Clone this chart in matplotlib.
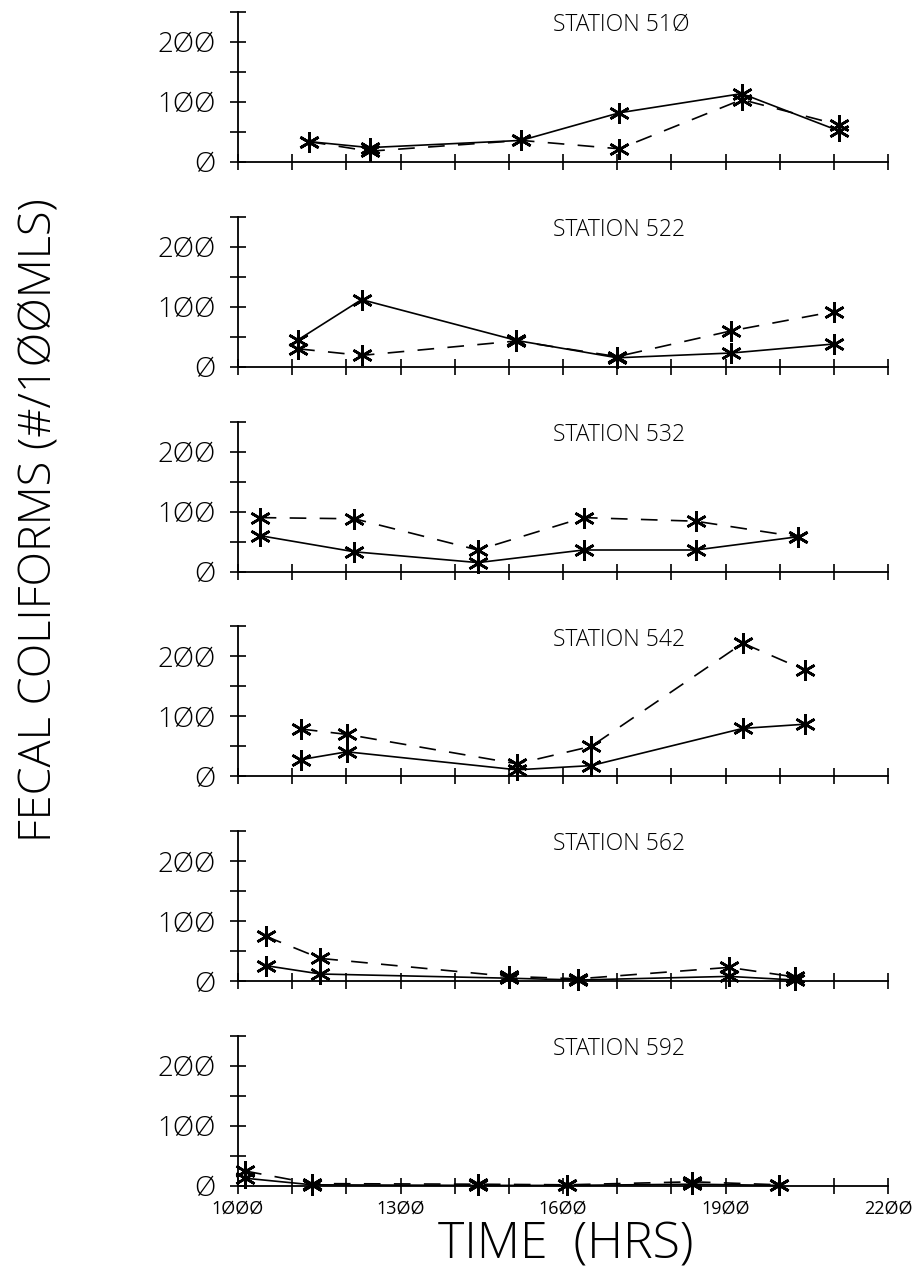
#!/usr/bin/env python3
import matplotlib
matplotlib.use('Agg')
import matplotlib.pyplot as plt
from matplotlib.ticker import MultipleLocator, FuncFormatter

#sampling times (hrs) and fecal coliform counts for each station
#solid line is the first survey, dashed line the second
stations = ['510', '522', '532', '542', '562', '592']

times510 = [1131, 1243, 1523, 1704, 1930, 2109]
solid510 = [34, 24, 36, 82, 114, 52]
dashed510 = [34, 18, 36, 22, 104, 62]

times522 = [1111, 1228, 1514, 1700, 1911, 2100]
solid522 = [45, 112, 44, 15, 23, 38]
dashed522 = [30, 19, 43, 17, 60, 92]

times532 = [1040, 1215, 1443, 1638, 1845, 2033]
solid532 = [60, 33, 15, 36, 36, 58]
dashed532 = [90, 88, 36, 90, 84, 58]

times542 = [1116, 1201, 1515, 1652, 1932, 2047]
solid542 = [28, 41, 11, 18, 80, 87]
dashed542 = [79, 70, 21, 50, 222, 177]

times562 = [1051, 1152, 1500, 1628, 1906, 2029]
solid562 = [26, 12, 5, 2, 8, 2]
dashed562 = [75, 38, 8, 4, 23, 7]

times592 = [1013, 1137, 1443, 1608, 1839, 1999]
solid592 = [13, 2, 1, 1, 3, 1]
dashed592 = [25, 4, 3, 2, 7, 2]

allTimes = [times510, times522, times532, times542, times562, times592]
allSolid = [solid510, solid522, solid532, solid542, solid562, solid592]
allDashed = [dashed510, dashed522, dashed532, dashed542, dashed562, dashed592]

xLabels = [1000, 1300, 1600, 1900, 2200]

#thin plotter-like lettering
plt.rcParams['font.family'] = ['Open Sans', 'DejaVu Sans']
plt.rcParams['font.weight'] = 'light'

#plotter style zeros
slashZero = lambda s: str(s).replace('0', '\u00d8')


def drawPanel(ax, t, solid, dashed, name, lastPanel):
    ax.plot(t, solid, color='black', lw=1.2, marker=(6, 2, 0), ms=15, mew=1.9, clip_on=False)
    line, = ax.plot(t, dashed, color='black', lw=1.2, marker=(6, 2, 0), ms=15, mew=1.9, clip_on=False)
    line.set_dashes((10, 8))
    ax.set_xlim(1000, 2200)
    ax.set_ylim(0, 250)
    ax.spines['top'].set_visible(False)
    ax.spines['right'].set_visible(False)
    for s in ['left', 'bottom']:
        ax.spines[s].set_linewidth(1.3)
    ax.xaxis.set_major_locator(MultipleLocator(100))
    ax.yaxis.set_major_locator(MultipleLocator(100))
    ax.yaxis.set_minor_locator(MultipleLocator(50))
    ax.tick_params(axis='both', which='both', direction='inout', length=12, width=1.2)
    ax.tick_params(axis='y', which='major', labelsize=20, pad=10)
    ax.yaxis.set_major_formatter(FuncFormatter(lambda v, p: slashZero(int(v))))
    if lastPanel:
        ax.xaxis.set_major_formatter(FuncFormatter(lambda v, p: slashZero(int(v)) if int(round(v)) in xLabels else ''))
        ax.tick_params(axis='x', labelsize=13, pad=4)
        for lab in ax.get_xticklabels():
            lab.set_fontweight('normal')
    else:
        ax.tick_params(axis='x', labelbottom=False)
    ax.text(1581, 228, 'STATION ' + slashZero(name), fontsize=16.5, ha='left', va='center')


def main():
    fig = plt.figure(figsize=(9.17, 12.77), dpi=100)
    left = 238 / 917
    width = 650 / 917
    height = 150 / 1277
    for i, name in enumerate(stations):
        zeroPx = 162 + i * 204.8
        ax = fig.add_axes([left, 1 - zeroPx / 1277, width, height])
        drawPanel(ax, allTimes[i], allSolid[i], allDashed[i], name, i == len(stations) - 1)
    fig.text(0.043, 0.593, 'FECAL COLIFORMS (#/1\u00d8\u00d8MLS)', rotation=90, fontsize=32.5,
             ha='center', va='center')
    fig.text(0.617, 1 - 1258 / 1277, 'TIME  (HRS)', fontsize=36, ha='center', va='baseline')
    fig.savefig('out.png', dpi=100)


if __name__ == "__main__":
    main()
